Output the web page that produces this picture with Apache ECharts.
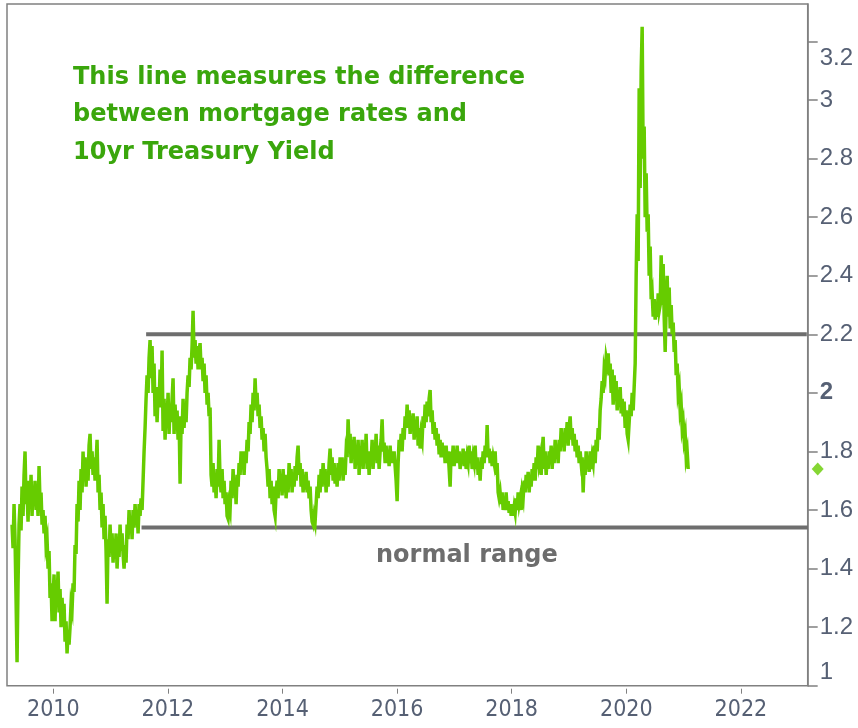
<!DOCTYPE html>
<html><head><meta charset="utf-8">
<script src="https://cdn.jsdelivr.net/npm/echarts@6/dist/echarts.min.js"></script>
<style>html,body{margin:0;padding:0;background:#fff}#c{width:858px;height:728px}</style>
</head><body><div id="c"></div>
<script>
// Mortgage rate minus 10yr Treasury yield (percentage points), regularly sampled
const firstObsYear = 2009.28;
const lastObsYear = 2021.08;
const spread = [
1.55,1.47,1.62,1.50,1.30,1.08,1.35,1.55,1.62,1.53,
1.68,1.58,1.72,1.80,1.62,1.66,1.56,1.70,1.62,1.72,
1.58,1.68,1.62,1.70,1.60,1.66,1.58,1.75,1.62,1.66,
1.55,1.60,1.52,1.58,1.48,1.50,1.40,1.46,1.30,1.35,
1.22,1.30,1.38,1.22,1.36,1.30,1.39,1.25,1.33,1.20,
1.30,1.22,1.28,1.15,1.22,1.11,1.18,1.14,1.20,1.28,
1.26,1.35,1.32,1.48,1.45,1.62,1.56,1.70,1.60,1.74,
1.66,1.80,1.70,1.78,1.68,1.76,1.70,1.82,1.86,1.74,
1.80,1.72,1.78,1.70,1.76,1.84,1.66,1.72,1.60,1.66,
1.54,1.62,1.50,1.58,1.46,1.28,1.50,1.44,1.55,1.46,
1.52,1.42,1.50,1.44,1.52,1.40,1.48,1.44,1.55,1.46,
1.52,1.45,1.40,1.48,1.42,1.55,1.50,1.60,1.52,1.58,
1.50,1.60,1.54,1.62,1.55,1.60,1.52,1.62,1.58,1.64,
1.60,1.70,1.80,1.88,1.98,2.06,2.00,2.12,2.18,2.05,
2.16,2.00,2.10,1.92,2.02,1.90,2.00,1.96,2.08,1.95,
2.145,1.87,1.98,1.84,1.96,1.90,2.00,1.86,1.96,1.90,
1.98,2.05,1.86,1.96,1.88,1.94,1.84,1.92,1.69,1.90,
1.86,1.98,1.88,1.96,1.90,2.00,2.06,2.02,2.12,2.08,
2.16,2.28,2.12,2.18,2.10,2.16,2.08,2.14,2.17,2.08,
2.12,2.04,2.10,2.00,2.06,1.96,2.00,1.92,1.95,1.72,
1.68,1.76,1.66,1.72,1.64,1.74,1.68,1.84,1.70,1.66,
1.74,1.64,1.70,1.62,1.66,1.58,1.57,1.62,1.60,1.70,
1.64,1.74,1.66,1.70,1.62,1.72,1.68,1.76,1.72,1.80,
1.74,1.80,1.72,1.80,1.76,1.84,1.80,1.90,1.86,1.96,
1.90,2.00,1.94,2.05,1.96,2.00,1.92,1.96,1.88,1.92,
1.84,1.88,1.80,1.86,1.78,1.74,1.68,1.74,1.64,1.70,
1.62,1.68,1.60,1.58,1.66,1.70,1.64,1.74,1.68,1.72,
1.65,1.74,1.66,1.72,1.64,1.70,1.66,1.76,1.70,1.74,
1.66,1.72,1.68,1.75,1.70,1.78,1.82,1.72,1.76,1.68,
1.74,1.66,1.72,1.67,1.73,1.66,1.70,1.64,1.68,1.60,
1.56,1.55,1.58,1.56,1.62,1.68,1.64,1.72,1.66,1.74,
1.68,1.76,1.70,1.74,1.66,1.72,1.68,1.76,1.81,1.72,
1.78,1.70,1.76,1.69,1.74,1.68,1.76,1.70,1.78,1.72,
1.78,1.70,1.76,1.72,1.80,1.78,1.91,1.82,1.86,1.76,
1.84,1.78,1.85,1.74,1.82,1.76,1.84,1.72,1.80,1.76,
1.84,1.74,1.82,1.76,1.86,1.74,1.80,1.72,1.80,1.76,
1.84,1.74,1.82,1.78,1.86,1.76,1.82,1.74,1.80,1.84,
1.91,1.80,1.83,1.76,1.82,1.76,1.80,1.75,1.82,1.76,
1.80,1.76,1.80,1.75,1.70,1.63,1.76,1.84,1.80,1.86,
1.80,1.88,1.84,1.92,1.88,1.96,1.88,1.94,1.86,1.92,
1.88,1.93,1.84,1.90,1.86,1.92,1.82,1.88,1.81,1.86,
1.84,1.92,1.88,1.96,1.90,1.97,1.92,1.98,2.01,1.90,
1.94,1.86,1.90,1.84,1.88,1.82,1.86,1.79,1.84,1.78,
1.83,1.78,1.82,1.76,1.82,1.76,1.80,1.74,1.68,1.80,
1.76,1.82,1.75,1.80,1.76,1.82,1.76,1.80,1.74,1.79,
1.76,1.81,1.75,1.80,1.74,1.78,1.76,1.82,1.76,1.80,
1.74,1.78,1.76,1.82,1.74,1.78,1.72,1.76,1.70,1.78,
1.74,1.80,1.76,1.82,1.78,1.89,1.78,1.81,1.76,1.80,
1.75,1.78,1.76,1.80,1.72,1.76,1.66,1.64,1.66,1.62,
1.66,1.60,1.64,1.60,1.66,1.60,1.63,1.59,1.62,1.58,
1.62,1.58,1.61,1.59,1.64,1.60,1.66,1.62,1.64,1.60,
1.66,1.64,1.70,1.66,1.72,1.68,1.73,1.66,1.72,1.68,
1.74,1.70,1.76,1.70,1.78,1.74,1.82,1.76,1.78,1.72,
1.80,1.85,1.74,1.80,1.72,1.78,1.74,1.80,1.76,1.82,
1.74,1.80,1.76,1.84,1.78,1.82,1.76,1.84,1.80,1.88,
1.82,1.86,1.80,1.88,1.84,1.90,1.82,1.88,1.92,1.84,
1.88,1.82,1.86,1.80,1.84,1.78,1.82,1.76,1.80,1.76,
1.78,1.66,1.76,1.72,1.80,1.74,1.78,1.73,1.80,1.74,
1.78,1.76,1.82,1.76,1.84,1.80,1.88,1.84,1.94,1.98,
2.04,2.00,2.08,2.06,2.12,2.10,2.135,2.06,2.10,2.00,
2.08,1.96,2.06,1.98,2.04,1.94,2.00,1.96,2.02,1.93,
1.98,1.92,1.97,1.88,1.94,1.86,1.84,1.90,1.96,1.92,
2.00,1.94,2.02,2.10,2.40,2.61,2.45,3.04,2.70,3.10,
3.25,2.80,2.91,2.60,2.75,2.55,2.61,2.40,2.50,2.32,
2.34,2.26,2.32,2.25,2.30,2.26,2.34,2.28,2.30,2.47,
2.30,2.44,2.26,2.14,2.30,2.40,2.26,2.36,2.22,2.30,
2.20,2.24,2.14,2.18,2.06,2.10,2.00,2.02,1.94,1.96,
1.88,1.90,1.84,1.86,1.78,1.80,1.74
];
const yearTicks = [2010, 2012, 2014, 2016, 2018, 2020, 2022];
const valueTicks = [1, 1.2, 1.4, 1.6, 1.8, 2, 2.2, 2.4, 2.6, 2.8, 3, 3.2];
const normalRangeHigh = 2.2;
const normalRangeLow = 1.54;
const highLineYears = [2011.62, 2023.15];
const lowLineYears = [2011.54, 2023.17];
const noteText = 'This line measures the difference\nbetween mortgage rates and\n10yr Treasury Yield';
const rangeText = 'normal range';

const X_MIN = 2009.192, X_MAX = 2023.166;
const Y_MIN = 1, Y_MAX = 3.328;

const step = (lastObsYear - firstObsYear) / (spread.length - 1);
const lineData = spread.map((v, i) => [firstObsYear + i * step, v]);
const lastValue = spread[spread.length - 1];

const labelColor = '#566074';
const axisGrey = '#808080';
const yFont = '"Liberation Sans", Arial, sans-serif';
const xFont = '"Liberation Sans Narrow", "Arial Narrow", "DejaVu Sans Condensed", "Liberation Sans", sans-serif';
const ys = {fontSize: 24, color: labelColor, fontFamily: yFont};

const chart = echarts.init(document.getElementById('c'), null, {renderer: 'canvas'});
chart.setOption({
  animation: false,
  backgroundColor: '#ffffff',
  grid: {left: 7, right: 50.3, top: 4, bottom: 42.3, show: true,
         borderColor: axisGrey, borderWidth: 1.5, backgroundColor: 'transparent'},
  xAxis: {
    type: 'value', min: X_MIN, max: X_MAX, offset: 3,
    axisLine: {show: false},
    axisTick: {show: true, length: 5, customValues: yearTicks, lineStyle: {color: axisGrey, width: 1}},
    axisLabel: {customValues: yearTicks, margin: 10, fontSize: 23, color: labelColor,
                fontFamily: xFont, formatter: v => String(v)},
    splitLine: {show: false}
  },
  yAxis: {
    type: 'value', position: 'right', min: Y_MIN, max: Y_MAX,
    axisLine: {show: true, lineStyle: {color: axisGrey, width: 1.5}},
    axisTick: {show: true, length: 10, customValues: valueTicks, lineStyle: {color: axisGrey, width: 1.5}},
    axisLabel: {
      customValues: valueTicks, margin: 12, fontSize: 24, color: labelColor, fontFamily: yFont,
      formatter: function (v) {
        if (v === 3.2) return '{lo|3.2}';
        if (v === 1) return '{hi|1}';
        if (v === 2) return '{b|2}';
        return '{n|' + String(v) + '}';
      },
      rich: {
        n: ys,
        lo: Object.assign({padding: [34, 0, 0, 0]}, ys),
        hi: Object.assign({padding: [0, 0, 26, 0]}, ys),
        b: Object.assign({fontWeight: 'bold'}, ys)
      }
    },
    splitLine: {show: false}
  },
  series: [
    {
      type: 'line', data: [[highLineYears[0], normalRangeHigh], [highLineYears[1], normalRangeHigh]],
      symbol: 'none', lineStyle: {color: '#6e6e6e', width: 4}, z: 2, silent: true
    },
    {
      type: 'line', data: [[lowLineYears[0], normalRangeLow], [lowLineYears[1], normalRangeLow]],
      symbol: 'none', lineStyle: {color: '#6e6e6e', width: 4}, z: 2, silent: true
    },
    {
      type: 'line', data: lineData, symbol: 'none', z: 3,
      lineStyle: {color: '#66cc00', width: 3.5, join: 'miter'}
    },
    {
      type: 'scatter', data: [[X_MAX, lastValue]], symbol: 'diamond', symbolSize: [12, 13],
      symbolOffset: [10, 0], clip: false, itemStyle: {color: '#66cc00'}, z: 5
    }
  ],
  graphic: [
    {type: 'text', left: 73, top: 59, z: 10, style: {
      text: noteText, fill: '#3aa60c', font: 'bold 24px "DejaVu Sans", sans-serif', lineHeight: 37.5}},
    {type: 'text', left: 376, top: 544, z: 10, style: {
      text: rangeText, fill: '#6d6d6d', font: 'bold 24px "DejaVu Sans", sans-serif'}}
  ]
});
</script>
</body></html>
